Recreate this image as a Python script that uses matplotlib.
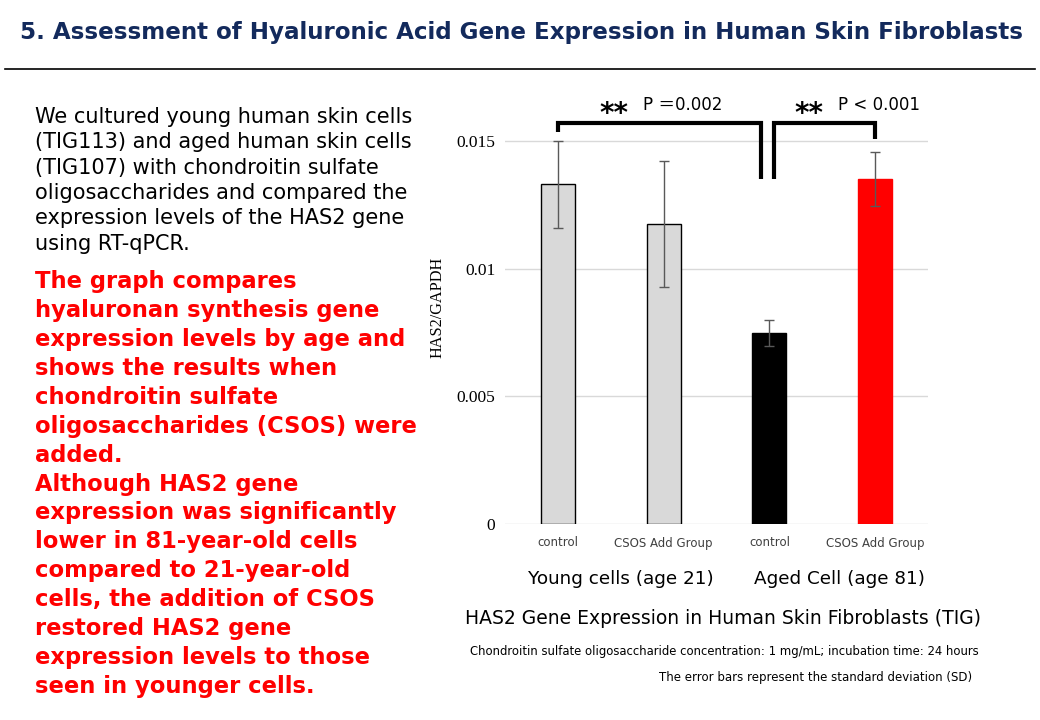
import matplotlib.pyplot as plt

W, H = 1040, 720

categories = ['control', 'CSOS Add Group', 'control', 'CSOS Add Group']
groups = ['Young cells (age 21)', 'Aged Cell (age 81)']
values = [0.01330, 0.01174, 0.00748, 0.01351]
errors = [0.00170, 0.00247, 0.00051, 0.00107]
bar_colors = ['#d9d9d9', '#d9d9d9', '#000000', '#ff0000']
edge_colors = ['#000000', '#000000', '#000000', '#ff0000']
yticks = [0, 0.005, 0.01, 0.015]
ytick_labels = ['0', '0.005', '0.01', '0.015']

# significance brackets: (left x, right x, bracket top, left leg end, right leg end, p text)
brackets = [
    (0, 1.92, 0.01570, 0.01535, 0.01351, 'P \uff1d0.002'),
    (2.04, 3, 0.01570, 0.01351, 0.01508, 'P < 0.001'),
]

title = '5. Assessment of Hyaluronic Acid Gene Expression in Human Skin Fibroblasts'
intro_lines = [
    'We cultured young human skin cells',
    '(TIG113) and aged human skin cells',
    '(TIG107) with chondroitin sulfate',
    'oligosaccharides and compared the',
    'expression levels of the HAS2 gene',
    'using RT-qPCR.',
]
red_lines = [
    'The graph compares',
    'hyaluronan synthesis gene',
    'expression levels by age and',
    'shows the results when',
    'chondroitin sulfate',
    'oligosaccharides (CSOS) were',
    'added.',
    'Although HAS2 gene',
    'expression was significantly',
    'lower in 81-year-old cells',
    'compared to 21-year-old',
    'cells, the addition of CSOS',
    'restored HAS2 gene',
    'expression levels to those',
    'seen in younger cells.',
]


def fx(px):
    return px / W


def fy(py):
    return 1 - py / H


fig = plt.figure(figsize=(W / 100, H / 100), dpi=100)

# header
fig.text(fx(20), fy(32), title, fontsize=16.6, fontweight='bold', color='#132a5c',
         ha='left', va='center', family='DejaVu Sans')
fig.add_artist(plt.Line2D([fx(5), fx(1035)], [fy(69), fy(69)], color='black', lw=1.2))

# left side text
for k, line in enumerate(intro_lines):
    fig.text(fx(35), fy(117 + k * 25.3), line, fontsize=15, color='black',
             ha='left', va='center', family='DejaVu Sans')
for k, line in enumerate(red_lines):
    fig.text(fx(35), fy(282 + k * 28.86), line, fontsize=16.3, fontweight='bold',
             color='#ff0000', ha='left', va='center', family='DejaVu Sans')

# chart
ymax = 0.017
ax = fig.add_axes([fx(505), fy(524), fx(928) - fx(505), (fy(90) - fy(524))])
x = list(range(len(values)))
ax.bar(x, values, width=0.32, color=bar_colors, edgecolor=edge_colors, linewidth=1, zorder=3)
ax.errorbar(x, values, yerr=errors, fmt='none', ecolor='#595959', elinewidth=1,
            capsize=3.5, capthick=1, zorder=4)
ax.set_xlim(-0.5, 3.5)
ax.set_ylim(0, ymax)
ax.set_yticks(yticks)
ax.set_yticklabels(ytick_labels, family='Liberation Serif', fontsize=12.5)
ax.set_xticks(x)
ax.set_xticklabels(categories, fontsize=8.5, color='#404040')
ax.tick_params(axis='both', length=0)
ax.tick_params(axis='y', pad=7)
ax.tick_params(axis='x', pad=9)
ax.grid(axis='y', color='#d9d9d9', lw=1, zorder=0)
for s in ax.spines.values():
    s.set_visible(False)
ax.set_ylabel('HAS2/GAPDH', family='Liberation Serif', fontsize=11.7, labelpad=8)

for (left, right, top, lend, rend, ptxt), sx in zip(brackets, [614, 809]):
    ax.plot([left, left, right, right], [lend, top, top, rend], color='black', lw=3,
            solid_joinstyle='miter', solid_capstyle='butt', clip_on=False, zorder=5)
    fig.text(fx(sx), fy(122), '**', fontsize=20, fontweight='bold', ha='center', va='baseline')
    fig.text(fx(sx + 29), fy(105.5), ptxt, fontsize=12, ha='left', va='center',
             family=['DejaVu Sans', 'Noto Sans CJK JP'])

# group labels and notes
fig.text(fx(621), fy(579), groups[0], fontsize=13.2, ha='center', va='center')
fig.text(fx(840), fy(579), groups[1], fontsize=13.2, ha='center', va='center')
fig.text(fx(723), fy(619), 'HAS2 Gene Expression in Human Skin Fibroblasts (TIG)',
         fontsize=13.5, ha='center', va='center')
fig.text(fx(979), fy(651),
         'Chondroitin sulfate oligosaccharide concentration: 1 mg/mL; incubation time: 24 hours',
         fontsize=8.4, ha='right', va='center')
fig.text(fx(972), fy(678), 'The error bars represent the standard deviation (SD)',
         fontsize=8.5, ha='right', va='center')

fig.savefig('out.png', dpi=100)
